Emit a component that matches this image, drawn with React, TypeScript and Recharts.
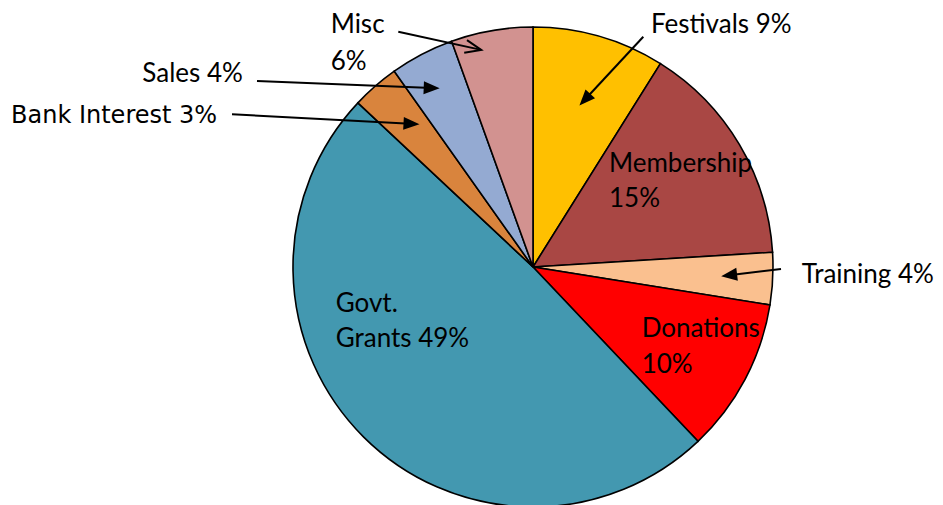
import React from 'react';
import { PieChart, Pie, Cell } from 'recharts';

const categories = ['Festivals', 'Membership', 'Training', 'Donations', 'Govt. Grants', 'Bank Interest', 'Sales', 'Misc'];
const shares = [8.9, 15.1, 3.5, 10.4, 49.0, 3.2, 4.3, 5.5];
const percentLabels = ['9%', '15%', '4%', '10%', '49%', '3%', '4%', '6%'];
const colors = ['#FFC000', '#A94744', '#FAC08F', '#FF0000', '#4398B0', '#D9843D', '#94AAD2', '#D29290'];

const data = categories.map((name, i) => ({ name, value: shares[i], pct: percentLabels[i] }));

const CAL = 'Lato, "Open Sans", sans-serif';
const DJV = '"DejaVu Sans", sans-serif';

type Layout = {
  x: number;
  y: number;
  gap?: number;
  breakAfter?: number;
  font?: string;
  size?: number;
  spacing?: number;
  arrow?: { fx: number; fy: number; r: number; da?: number; open?: boolean };
};

const layouts: Layout[] = [
  { x: 651, y: 33.3, arrow: { fx: 643.3, fy: 36.7, r: 0.7 } },
  { x: 609, y: 171.7, gap: 35, breakAfter: 1 },
  { x: 801.7, y: 283.3, arrow: { fx: 781, fy: 269, r: 0.785 } },
  { x: 641.7, y: 337.3, gap: 36, breakAfter: 1 },
  { x: 335.7, y: 311.7, gap: 35, breakAfter: 1 },
  { x: 11, y: 123.3, font: DJV, size: 24, arrow: { fx: 232, fy: 114.3, r: 0.76, da: -2.6 } },
  { x: 142.3, y: 81.7, arrow: { fx: 257, fy: 81, r: 0.84 } },
  { x: 330.7, y: 33.3, gap: 36.7, breakAfter: 1, arrow: { fx: 398.3, fy: 31.7, r: 0.93, da: 3.5, open: true } },
];

const RAD = Math.PI / 180;

const renderLabel = (props: any) => {
  const { cx, cy, midAngle, outerRadius, index } = props;
  const d = data[index];
  const L = layouts[index];
  const words = `${d.name} ${d.pct}`.split(' ');
  const lines = L.breakAfter ? [words.slice(0, L.breakAfter).join(' '), words.slice(L.breakAfter).join(' ')] : [words.join(' ')];
  let arrow = null;
  if (L.arrow) {
    const a = (midAngle + (L.arrow.da || 0)) * RAD;
    const tx = cx + outerRadius * L.arrow.r * Math.cos(-a);
    const ty = cy + outerRadius * L.arrow.r * Math.sin(-a);
    const dx = tx - L.arrow.fx;
    const dy = ty - L.arrow.fy;
    const len = Math.sqrt(dx * dx + dy * dy);
    const ux = dx / len;
    const uy = dy / len;
    const hl = 16;
    const hw = 6.5;
    const bx = tx - ux * hl;
    const by = ty - uy * hl;
    const p1 = `${bx - uy * hw},${by + ux * hw}`;
    const p2 = `${bx + uy * hw},${by - ux * hw}`;
    arrow = (
      <g>
        <line x1={L.arrow.fx} y1={L.arrow.fy} x2={L.arrow.open ? tx : bx + ux * 2} y2={L.arrow.open ? ty : by + uy * 2} stroke="#000" strokeWidth={2} />
        {L.arrow.open ? (
          <polyline points={`${p1} ${tx},${ty} ${p2}`} fill="none" stroke="#000" strokeWidth={2} />
        ) : (
          <polygon points={`${p1} ${tx},${ty} ${p2}`} fill="#000" />
        )}
      </g>
    );
  }
  return (
    <g key={`lbl-${index}`}>
      {arrow}
      {lines.map((t, i) => (
        <text
          key={i}
          x={L.x}
          y={L.y + i * (L.gap || 0)}
          fill="#000"
          fontFamily={L.font || CAL}
          fontSize={L.size || 26}
          letterSpacing={L.spacing || 0}
          textAnchor="start"
        >
          {t}
        </text>
      ))}
    </g>
  );
};

export default function App() {
  return (
    <div style={{ position: 'absolute', left: 0, top: 0, width: 943, height: 505, background: '#fff' }}>
      <PieChart width={943} height={505} margin={{ top: 0, right: 0, bottom: 0, left: 0 }}>
        <Pie
          data={data}
          dataKey="value"
          nameKey="name"
          cx={533}
          cy={267}
          outerRadius={240}
          startAngle={90}
          endAngle={-270}
          stroke="#000"
          strokeWidth={1.6}
          label={renderLabel}
          labelLine={false}
          isAnimationActive={false}
        >
          {data.map((d, i) => (
            <Cell key={d.name} fill={colors[i]} />
          ))}
        </Pie>
      </PieChart>
    </div>
  );
}
